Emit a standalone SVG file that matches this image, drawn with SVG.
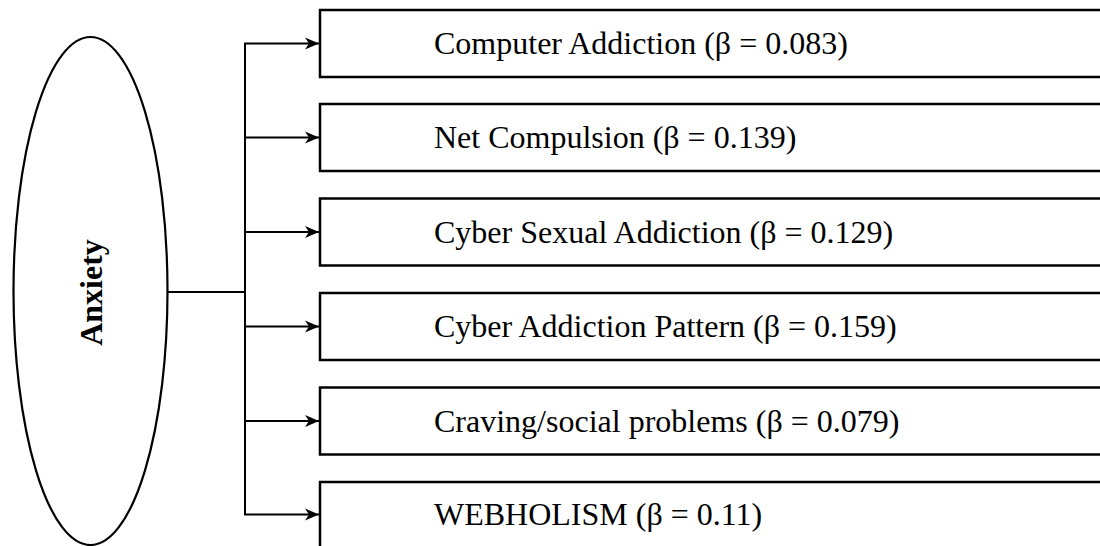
<svg xmlns="http://www.w3.org/2000/svg" width="1100" height="546" viewBox="0 0 1100 546">
  <style>
    .box { fill: #ffffff; stroke: #000000; stroke-width: 2.5; }
    .oval { fill: #ffffff; stroke: #000000; stroke-width: 2.2; }
    .wire { fill: none; stroke: #000000; stroke-width: 2; }
    .lbl { font-family: "Liberation Serif", "Times New Roman", serif; font-size: 32px; fill: #000000; }
    .title { font-family: "Liberation Serif", "Times New Roman", serif; font-size: 32px; font-weight: bold; fill: #000000; }
  </style>
  <defs>
    <marker id="arrow" markerUnits="userSpaceOnUse" markerWidth="16" markerHeight="14" refX="14" refY="7" orient="auto">
      <path d="M0,1 L14,7 L0,13 L4,7 Z" fill="#000000"/>
    </marker>
  </defs>
  <rect width="1100" height="546" fill="#ffffff"/>

  <!-- source node -->
  <g id="node-anxiety">
    <ellipse class="oval" cx="90.5" cy="291" rx="77" ry="254"/>
    <text class="title" transform="translate(101.5,292.5) rotate(-90)" text-anchor="middle">Anxiety</text>
  </g>

  <!-- outcome nodes -->
  <g id="node-computer-addiction">
    <rect class="box" x="320" y="10" width="800" height="67"/>
    <text class="lbl" x="434" y="54">Computer Addiction (β = 0.083)</text>
  </g>
  <g id="node-net-compulsion">
    <rect class="box" x="320" y="104" width="800" height="67"/>
    <text class="lbl" x="434" y="148">Net Compulsion (β = 0.139)</text>
  </g>
  <g id="node-cyber-sexual">
    <rect class="box" x="320" y="198.5" width="800" height="67"/>
    <text class="lbl" x="434" y="242.5">Cyber Sexual Addiction (β = 0.129)</text>
  </g>
  <g id="node-cyber-pattern">
    <rect class="box" x="320" y="293" width="800" height="67"/>
    <text class="lbl" x="434" y="337">Cyber Addiction Pattern (β = 0.159)</text>
  </g>
  <g id="node-craving">
    <rect class="box" x="320" y="387.5" width="800" height="67"/>
    <text class="lbl" x="434" y="431.5">Craving/social problems (β = 0.079)</text>
  </g>
  <g id="node-webholism">
    <rect class="box" x="320" y="482" width="800" height="80"/>
    <text class="lbl" x="434" y="525">WEBHOLISM (β = 0.11)</text>
  </g>

  <!-- connectors -->
  <g id="connectors">
    <path class="wire" d="M168,292 H245"/>
    <path class="wire" d="M245,43 V515"/>
    <path class="wire" d="M244,43.5 H319" marker-end="url(#arrow)"/>
    <path class="wire" d="M245,137.5 H319" marker-end="url(#arrow)"/>
    <path class="wire" d="M245,232 H319" marker-end="url(#arrow)"/>
    <path class="wire" d="M245,326.5 H319" marker-end="url(#arrow)"/>
    <path class="wire" d="M245,421 H319" marker-end="url(#arrow)"/>
    <path class="wire" d="M244,514.5 H319" marker-end="url(#arrow)"/>
  </g>
</svg>
